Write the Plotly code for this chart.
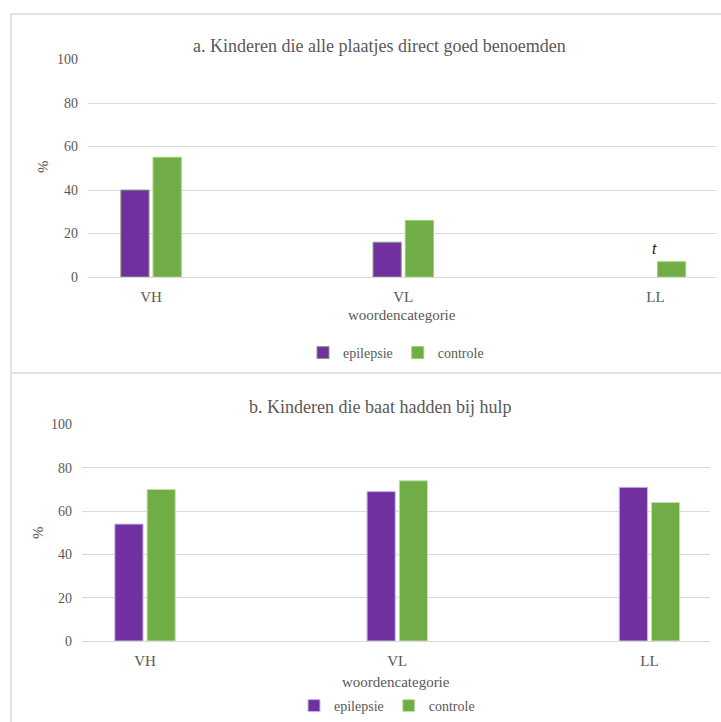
import plotly.graph_objects as go

W, H = 721, 722

categories = ["VH", "VL", "LL"]
a_epilepsie = [40, 16, 0]
a_controle = [55, 26, 7]
b_epilepsie = [54, 69, 71]
b_controle = [70, 74, 64]
y_ticks = [0, 20, 40, 60, 80, 100]

title_a = "a. Kinderen die alle plaatjes direct goed benoemden"
title_b = "b. Kinderen die baat hadden bij hulp"
x_title = "woordencategorie"
y_title = "%"

PURPLE = "#7030A0"
GREEN = "#70AD47"
TXT = "#595959"
GRID = "#D9D9D9"
SERIF = "Liberation Serif"


def px(x):
    return x / W


def py(y):
    return 1 - y / H


fig = go.Figure()

fig.add_trace(go.Bar(x=categories, y=a_epilepsie, name="epilepsie", xaxis="x", yaxis="y",
                     marker=dict(color=PURPLE, line=dict(color="#8E9C78", width=[1, 1, 0])),
                     legend="legend"))
fig.add_trace(go.Bar(x=categories, y=a_controle, name="controle", xaxis="x", yaxis="y",
                     marker=dict(color=GREEN, line=dict(color="#9BD36A", width=1)),
                     legend="legend"))
fig.add_trace(go.Bar(x=categories, y=b_epilepsie, name="epilepsie", xaxis="x2", yaxis="y2",
                     marker=dict(color=PURPLE, line=dict(color="#C9B8DE", width=1)),
                     legend="legend2"))
fig.add_trace(go.Bar(x=categories, y=b_controle, name="controle", xaxis="x2", yaxis="y2",
                     marker=dict(color=GREEN, line=dict(color="#C5E0B4", width=1)),
                     legend="legend2"))

common_x = dict(type="category", range=[-0.25, 2.24], showgrid=False, zeroline=False,
                showline=False, ticks="", tickfont=dict(family=SERIF, size=15, color=TXT),
                ticklabelstandoff=9, automargin=False, fixedrange=True)
common_y = dict(range=[0, 100], tickvals=y_ticks, showgrid=True, gridcolor=GRID, gridwidth=1,
                zeroline=True, zerolinecolor=GRID, zerolinewidth=1, showline=False, ticks="",
                tickfont=dict(family=SERIF, size=14, color=TXT), ticklabelstandoff=9,
                automargin=False, fixedrange=True)

fig.update_layout(
    width=W, height=H, autosize=False,
    margin=dict(l=0, r=0, t=0, b=0),
    paper_bgcolor="white", plot_bgcolor="white",
    font=dict(family=SERIF, color=TXT),
    barmode="group", bargap=0.7445, bargroupgap=0.125,
    xaxis=dict(common_x, domain=[px(88), px(716)], anchor="y"),
    yaxis=dict(common_y, domain=[py(277), py(59.5)], anchor="x"),
    xaxis2=dict(common_x, domain=[px(82), px(710)], anchor="y2"),
    yaxis2=dict(common_y, domain=[py(641), py(424.5)], anchor="x2"),
    legend=dict(orientation="h", x=px(396), xanchor="center", y=py(353), yanchor="middle",
                font=dict(family=SERIF, size=14, color=TXT), bgcolor="rgba(0,0,0,0)",
                itemclick=False, itemdoubleclick=False),
    legend2=dict(orientation="h", x=px(387), xanchor="center", y=0, yanchor="bottom",
                 font=dict(family=SERIF, size=14, color=TXT), bgcolor="rgba(0,0,0,0)",
                 itemclick=False, itemdoubleclick=False),
    showlegend=True,
)

annotations = [
    dict(text=title_a, x=px(379), y=py(46), font=dict(family=SERIF, size=18, color=TXT)),
    dict(text=title_b, x=px(380), y=py(407), font=dict(family=SERIF, size=18, color=TXT)),
    dict(text=x_title, x=px(402), y=py(315), font=dict(family=SERIF, size=15, color=TXT)),
    dict(text=x_title, x=px(396), y=py(682), font=dict(family=SERIF, size=15, color=TXT)),
    dict(text=y_title, x=px(43), y=py(167), textangle=-90, font=dict(family=SERIF, size=15, color=TXT)),
    dict(text=y_title, x=px(38), y=py(533), textangle=-90, font=dict(family=SERIF, size=15, color=TXT)),
    dict(text="<i>t</i>", x=categories[2], y=a_controle[2] + 6, xref="x", yref="y",
         xshift=-1, font=dict(family="Liberation Sans", size=15, color="#262626")),
]
for a in annotations:
    a.setdefault("xref", "paper")
    a.setdefault("yref", "paper")
    a.update(showarrow=False, xanchor="center", yanchor="middle")
fig.update_layout(annotations=annotations)

border = dict(color=GRID, width=1.5)
fig.update_layout(shapes=[
    dict(type="line", xref="paper", yref="paper", x0=px(11), x1=1, y0=py(14), y1=py(14), line=border),
    dict(type="line", xref="paper", yref="paper", x0=px(11), x1=px(11), y0=py(14), y1=0, line=border),
    dict(type="line", xref="paper", yref="paper", x0=px(11), x1=1, y0=py(373), y1=py(373), line=border),
])

fig.write_html("out.html")
